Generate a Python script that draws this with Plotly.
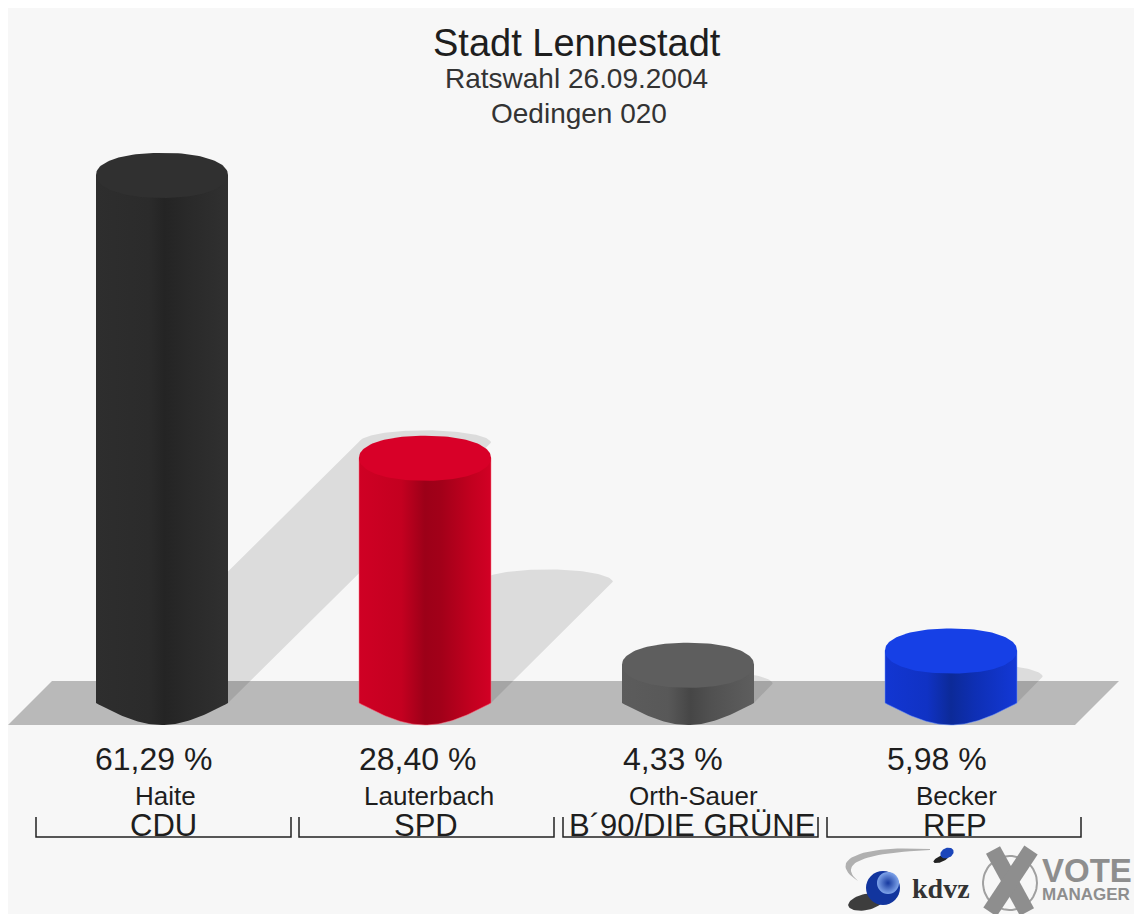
import numpy as np
import plotly.graph_objects as go

# ---------- data ----------
candidates = ["Haite", "Lauterbach", "Orth-Sauer", "Becker"]
parties = ["CDU", "SPD", "B´90/DIE GRÜNE", "REP"]
values = [61.29, 28.40, 4.33, 5.98]
value_labels = ["61,29 %", "28,40 %", "4,33 %", "5,98 %"]
top_colors = ["#303030", "#d80028", "#5e5e5e", "#1640e6"]
side_colors = [
    [[0, "#2e2e2e"], [0.40, "#2b2b2b"], [0.52, "#242424"], [0.68, "#292929"], [1, "#303030"]],
    [[0, "#cf0024"], [0.32, "#c40020"], [0.5, "#9c0018"], [0.62, "#a20019"], [0.85, "#c2001f"], [1, "#d20025"]],
    [[0, "#5c5c5c"], [0.35, "#585858"], [0.52, "#464646"], [0.68, "#515151"], [1, "#5e5e5e"]],
    [[0, "#1236d2"], [0.32, "#1032c4"], [0.5, "#0c2a98"], [0.68, "#0e2fb4"], [1, "#1338d6"]],
]
edge_colors = [None, "rgba(255,110,130,0.5)", None, "rgba(110,150,255,0.5)"]

# ---------- geometry ----------
W, H = 1134, 914
X0, DX, Y0, DY = 162, 263, 702, 8.6
RX, RY = 66, 23
SHADOW_RY = 12.5


def xd(px):
    return (np.asarray(px, float) - X0) / DX


def yd(py):
    return (Y0 - np.asarray(py, float)) / DY


def pxx(i):
    return X0 + DX * i


def pxy(v):
    return Y0 - DY * v


fig = go.Figure()


def poly(xs, ys, **kw):
    fig.add_trace(go.Scatter(x=xd(xs), y=yd(ys), mode="lines", fill="toself",
                             showlegend=False, hoverinfo="skip", **kw))


def bezier(p0, p1, p2, p3, n=30):
    t = np.linspace(0, 1, n)[:, None]
    pts = ((1 - t) ** 3 * np.array(p0) + 3 * (1 - t) ** 2 * t * np.array(p1)
           + 3 * (1 - t) * t ** 2 * np.array(p2) + t ** 3 * np.array(p3))
    return pts[:, 0], pts[:, 1]


def tilted(cx, cy, rx, ry, deg, n=50):
    s = np.linspace(0, 2 * np.pi, n)
    a = np.radians(deg)
    ex, ey = rx * np.cos(s), ry * np.sin(s)
    return cx + ex * np.cos(a) - ey * np.sin(a), cy + ex * np.sin(a) + ey * np.cos(a)


NOLINE = dict(width=0)

# floor
poly([8, 52, 1119, 1075, 8], [725, 681, 681, 725, 725], fillcolor="#b9b9b9", line=NOLINE)

# shadows
for i, v in enumerate(values):
    cx = pxx(i)
    sx, sy = 4.29 * v, 4.23 * v
    ts = np.linspace(np.pi, 2 * np.pi, 70)
    ax = cx + sx + RX * np.cos(ts)
    ay = Y0 - sy + SHADOW_RY * np.sin(ts)
    poly(np.r_[cx - RX, ax, cx + RX, cx - RX], np.r_[Y0, ay, Y0 + 1, Y0],
         fillcolor="rgba(0,0,0,0.105)", line=NOLINE)

# cylinders
for i, v in enumerate(values):
    cx, cy = pxx(i), pxy(v)
    u = np.linspace(-1, 1, 61)
    arc_x = cx + RX * u
    arc_y = 703 + 22 * np.cos(u * np.pi / 2)
    xs = np.r_[cx - RX, arc_x, cx + RX, cx - RX]
    ys = np.r_[cy, arc_y, cy, cy]
    line = dict(width=1, color=edge_colors[i]) if edge_colors[i] else NOLINE
    poly(xs, ys, line=line,
         fillgradient=dict(type="horizontal", colorscale=side_colors[i]))
    t = np.linspace(0, 2 * np.pi, 121)
    tx = cx + RX * np.sign(np.cos(t)) * np.abs(np.cos(t)) ** 0.9
    ty = cy + RY * np.sign(np.sin(t)) * np.abs(np.sin(t)) ** 0.95
    ty = np.where(np.sin(t) < 0, cy + (ty - cy) * 22 / RY, ty)
    poly(tx, ty, fillcolor=top_colors[i], line=NOLINE)

# logo pieces
ox, oy = bezier((930, 849), (860, 845), (825, 860), (858, 881))
ix, iy = bezier((858, 881), (838, 864), (860, 853), (930, 850))
poly(np.r_[ox, ix], np.r_[oy, iy], fillcolor="#b0b0b0", line=NOLINE)
sx_, sy_ = tilted(866, 902, 18, 8, -12)
poly(sx_, sy_, fillcolor="rgba(20,20,20,0.82)", line=NOLINE)
sx_, sy_ = tilted(941, 859, 8, 3, -22)
poly(sx_, sy_, fillcolor="#222222", line=NOLINE)
sx_, sy_ = tilted(947, 853, 7, 5, -25)
poly(sx_, sy_, fillcolor="#1c46ba", line=NOLINE)
fig.add_trace(go.Scatter(
    x=xd([883]), y=yd([888]), mode="markers", showlegend=False, hoverinfo="skip",
    marker=dict(size=34, color="#12359e", line=dict(width=0))))
fig.add_trace(go.Scatter(
    x=xd([888]), y=yd([883]), mode="markers", showlegend=False, hoverinfo="skip",
    marker=dict(size=22, color="#7fa4ea", line=dict(width=0),
                gradient=dict(type="radial", color="#16399f"))))
s = np.linspace(0, 2 * np.pi, 60)
fig.add_trace(go.Scatter(
    x=xd(1010 + 27 * np.cos(s)), y=yd(883 + 27 * np.sin(s)), mode="lines",
    showlegend=False, hoverinfo="skip", line=dict(color="#a0a0a0", width=2)))
for a, b in (((993, 850), (1027, 912)), ((1031, 850), (990, 912))):
    fig.add_trace(go.Scatter(
        x=xd([a[0], b[0]]), y=yd([a[1], b[1]]), mode="lines", showlegend=False, hoverinfo="skip",
        line=dict(color="#8e8e8e", width=16)))

# brackets
brackets = [(36, 291), (299, 554), (563, 818), (827, 1081)]
for l, r in brackets:
    fig.add_trace(go.Scatter(
        x=xd([l, l, r, r]), y=yd([817, 837, 837, 817]), mode="lines",
        showlegend=False, hoverinfo="skip", line=dict(color="#222222", width=1.5)))

FONT = "Liberation Sans, Arial, sans-serif"


def note(px, py, text, size, color="#1e1e1e", family=FONT, **kw):
    fig.add_annotation(x=float(xd(px)), y=float(yd(py)), text=text, showarrow=False,
                       font=dict(size=size, color=color, family=family),
                       xanchor=kw.pop("xanchor", "center"), yanchor="middle", **kw)


note(577, 43, "Stadt Lennestadt", 38)
note(576, 78, "Ratswahl 26.09.2004", 28, "#333333")
note(579, 113, "Oedingen 020", 28, "#333333")

label_x = [153, 417, 673, 937]
name_x = [165, 429, 693, 956]
party_x = [163, 426, 692, 955]
for i in range(4):
    note(label_x[i], 759, value_labels[i], 32)
    note(name_x[i], 796, candidates[i], 26)
    note(party_x[i], 825, parties[i], 31)

note(941, 888, "<b>kdvz</b>", 28, "#333333", "Liberation Serif, serif")
note(1040, 870, "<b>VOTE</b>", 33, "#8e8e8e", xanchor="left")
note(1040, 894, "<b>MANAGER</b>", 17, "#8e8e8e", xanchor="left")

fig.update_layout(
    width=W, height=H, autosize=False,
    margin=dict(l=8, t=8, r=0, b=0, pad=0),
    paper_bgcolor="#ffffff", plot_bgcolor="#f7f7f7", showlegend=False,
    xaxis=dict(range=[float(xd(8)), float(xd(W))], visible=False, fixedrange=True),
    yaxis=dict(range=[float(yd(H)), float(yd(8))], visible=False, fixedrange=True),
)
fig.write_html("out.html", config=dict(displayModeBar=False),
               post_script="document.body.style.margin='0';document.body.style.overflow='hidden';")
